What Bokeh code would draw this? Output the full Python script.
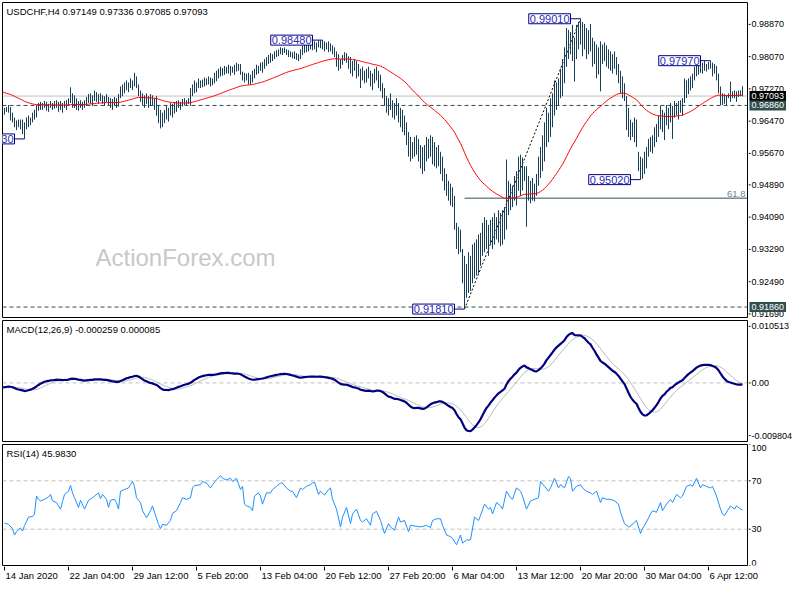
import numpy as np
from bokeh.plotting import figure
from bokeh.layouts import column, row
from bokeh.models import Range1d, Label, Span, ColumnDataSource
from bokeh.core.properties import value
from bokeh.embed import file_html
from bokeh.resources import INLINE

# ---------------- data ----------------
symbol_title = "USDCHF,H4  0.97149 0.97336 0.97085 0.97093"
macd_title = "MACD(12,26,9) -0.000259 0.000085"
rsi_title = "RSI(14) 45.9830"

highs = [
    0.9685, 0.9680, 0.9682, 0.9687, 0.9682, 0.9668, 0.9656, 0.9649, 0.9651, 0.9651,
    0.9651, 0.9644, 0.9656, 0.9661, 0.9656, 0.9668, 0.9675, 0.9687, 0.9692, 0.9695,
    0.9692, 0.9697, 0.9695, 0.9690, 0.9697, 0.9692, 0.9697, 0.9699, 0.9695, 0.9697,
    0.9692, 0.9697, 0.9699, 0.9704, 0.9731, 0.9716, 0.9711, 0.9704, 0.9697, 0.9699,
    0.9695, 0.9699, 0.9707, 0.9714, 0.9716, 0.9711, 0.9723, 0.9719, 0.9714, 0.9716,
    0.9711, 0.9709, 0.9714, 0.9707, 0.9704, 0.9702, 0.9707, 0.9704, 0.9714, 0.9733,
    0.9738, 0.9743, 0.9748, 0.9743, 0.9753, 0.9748, 0.9767, 0.9758, 0.9738, 0.9723,
    0.9716, 0.9711, 0.9716, 0.9709, 0.9714, 0.9711, 0.9704, 0.9709, 0.9685, 0.9675,
    0.9668, 0.9675, 0.9685, 0.9680, 0.9692, 0.9690, 0.9695, 0.9697, 0.9699, 0.9695,
    0.9702, 0.9704, 0.9699, 0.9704, 0.9729, 0.9738, 0.9748, 0.9743, 0.9753, 0.9748,
    0.9750, 0.9755, 0.9753, 0.9758, 0.9755, 0.9753, 0.9767, 0.9772, 0.9777, 0.9782,
    0.9779, 0.9784, 0.9782, 0.9787, 0.9784, 0.9782, 0.9787, 0.9792, 0.9789, 0.9789,
    0.9770, 0.9767, 0.9765, 0.9767, 0.9762, 0.9772, 0.9777, 0.9787, 0.9784, 0.9792,
    0.9794, 0.9801, 0.9806, 0.9811, 0.9816, 0.9813, 0.9820, 0.9823, 0.9825, 0.9830,
    0.9828, 0.9830, 0.9825, 0.9823, 0.9820, 0.9818, 0.9820, 0.9816, 0.9813, 0.9825,
    0.9835, 0.9840, 0.9837, 0.9842, 0.9840, 0.9842, 0.9845, 0.9842, 0.9847, 0.9847,
    0.9848, 0.9845, 0.9842, 0.9845, 0.9840, 0.9835, 0.9830, 0.9820, 0.9813, 0.9801,
    0.9811, 0.9818, 0.9816, 0.9808, 0.9806, 0.9796, 0.9801, 0.9796, 0.9789, 0.9777,
    0.9782, 0.9772, 0.9777, 0.9782, 0.9772, 0.9765, 0.9777, 0.9782, 0.9772, 0.9762,
    0.9741, 0.9729, 0.9709, 0.9704, 0.9716, 0.9699, 0.9692, 0.9704, 0.9692, 0.9680,
    0.9675, 0.9661, 0.9644, 0.9620, 0.9608, 0.9595, 0.9608, 0.9612, 0.9603, 0.9588,
    0.9583, 0.9588, 0.9608, 0.9603, 0.9612, 0.9608, 0.9595, 0.9583, 0.9588, 0.9571,
    0.9559, 0.9530, 0.9516, 0.9499, 0.9492, 0.9483, 0.9462, 0.9395, 0.9385, 0.9378,
    0.9330, 0.9313, 0.9293, 0.9322, 0.9313, 0.9341, 0.9346, 0.9354, 0.9366, 0.9370,
    0.9395, 0.9409, 0.9402, 0.9390, 0.9402, 0.9409, 0.9419, 0.9409, 0.9426, 0.9419,
    0.9426, 0.9434, 0.9552, 0.9499, 0.9492, 0.9487, 0.9511, 0.9523, 0.9559, 0.9564,
    0.9557, 0.9535, 0.9535, 0.9511, 0.9499, 0.9506, 0.9492, 0.9516, 0.9559, 0.9583,
    0.9612, 0.9644, 0.9680, 0.9668, 0.9704, 0.9716, 0.9748, 0.9743, 0.9753, 0.9777,
    0.9801, 0.9830, 0.9878, 0.9873, 0.9868, 0.9886, 0.9854, 0.9886, 0.9893, 0.9901,
    0.9893, 0.9888, 0.9878, 0.9873, 0.9888, 0.9854, 0.9845, 0.9837, 0.9830, 0.9845,
    0.9837, 0.9842, 0.9835, 0.9825, 0.9820, 0.9813, 0.9820, 0.9806, 0.9789, 0.9772,
    0.9758, 0.9741, 0.9709, 0.9680, 0.9651, 0.9644, 0.9656, 0.9651, 0.9571, 0.9559,
    0.9555, 0.9571, 0.9583, 0.9603, 0.9608, 0.9612, 0.9632, 0.9640, 0.9661, 0.9685,
    0.9675, 0.9668, 0.9687, 0.9680, 0.9692, 0.9685, 0.9697, 0.9692, 0.9697, 0.9699,
    0.9704, 0.9753, 0.9748, 0.9753, 0.9758, 0.9765, 0.9782, 0.9794, 0.9787, 0.9796,
    0.9792, 0.9796, 0.9789, 0.9794, 0.9797, 0.9792, 0.9789, 0.9784, 0.9765, 0.9733,
    0.9716, 0.9714, 0.9711, 0.9716, 0.9745, 0.9721, 0.9723, 0.9721, 0.9723, 0.9723,
    0.97336,
]
lows = [
    0.9668, 0.9663, 0.9670, 0.9668, 0.9649, 0.9644, 0.9632, 0.9625, 0.9632, 0.9627,
    0.9615, 0.9603, 0.9627, 0.9632, 0.9637, 0.9644, 0.9651, 0.9656, 0.9673, 0.9675,
    0.9675, 0.9680, 0.9673, 0.9670, 0.9680, 0.9675, 0.9678, 0.9680, 0.9670, 0.9675,
    0.9668, 0.9680, 0.9675, 0.9685, 0.9692, 0.9680, 0.9680, 0.9675, 0.9673, 0.9680,
    0.9675, 0.9680, 0.9685, 0.9692, 0.9690, 0.9685, 0.9697, 0.9695, 0.9690, 0.9697,
    0.9690, 0.9685, 0.9695, 0.9687, 0.9680, 0.9675, 0.9685, 0.9680, 0.9683, 0.9704,
    0.9709, 0.9716, 0.9724, 0.9719, 0.9729, 0.9724, 0.9733, 0.9729, 0.9709, 0.9695,
    0.9687, 0.9680, 0.9690, 0.9680, 0.9685, 0.9687, 0.9675, 0.9661, 0.9642, 0.9629,
    0.9632, 0.9642, 0.9651, 0.9646, 0.9661, 0.9656, 0.9666, 0.9670, 0.9680, 0.9675,
    0.9683, 0.9687, 0.9685, 0.9690, 0.9685, 0.9709, 0.9716, 0.9719, 0.9729, 0.9729,
    0.9731, 0.9733, 0.9736, 0.9738, 0.9733, 0.9736, 0.9741, 0.9746, 0.9753, 0.9758,
    0.9760, 0.9762, 0.9765, 0.9765, 0.9760, 0.9767, 0.9762, 0.9770, 0.9772, 0.9762,
    0.9748, 0.9743, 0.9748, 0.9738, 0.9738, 0.9743, 0.9753, 0.9762, 0.9765, 0.9772,
    0.9767, 0.9777, 0.9784, 0.9789, 0.9792, 0.9796, 0.9801, 0.9806, 0.9808, 0.9813,
    0.9811, 0.9816, 0.9811, 0.9806, 0.9806, 0.9803, 0.9801, 0.9799, 0.9796, 0.9801,
    0.9811, 0.9816, 0.9818, 0.9820, 0.9825, 0.9823, 0.9825, 0.9818, 0.9830, 0.9828,
    0.9825, 0.9820, 0.9825, 0.9818, 0.9820, 0.9813, 0.9806, 0.9782, 0.9772, 0.9777,
    0.9787, 0.9796, 0.9792, 0.9777, 0.9765, 0.9758, 0.9772, 0.9753, 0.9758, 0.9729,
    0.9748, 0.9741, 0.9743, 0.9753, 0.9733, 0.9724, 0.9741, 0.9748, 0.9729, 0.9721,
    0.9704, 0.9685, 0.9668, 0.9661, 0.9675, 0.9656, 0.9651, 0.9661, 0.9644, 0.9632,
    0.9620, 0.9612, 0.9588, 0.9559, 0.9547, 0.9554, 0.9559, 0.9564, 0.9547, 0.9530,
    0.9516, 0.9523, 0.9547, 0.9554, 0.9559, 0.9540, 0.9535, 0.9530, 0.9535, 0.9516,
    0.9499, 0.9475, 0.9462, 0.9450, 0.9438, 0.9434, 0.9378, 0.9330, 0.9317, 0.9322,
    0.9245, 0.9181, 0.9209, 0.9221, 0.9226, 0.9245, 0.9257, 0.9264, 0.9269, 0.9288,
    0.9313, 0.9322, 0.9330, 0.9313, 0.9341, 0.9330, 0.9341, 0.9354, 0.9346, 0.9337,
    0.9341, 0.9354, 0.9378, 0.9414, 0.9426, 0.9434, 0.9450, 0.9438, 0.9475, 0.9462,
    0.9475, 0.9499, 0.9385, 0.9450, 0.9443, 0.9450, 0.9448, 0.9462, 0.9487, 0.9506,
    0.9523, 0.9547, 0.9583, 0.9595, 0.9608, 0.9632, 0.9661, 0.9675, 0.9685, 0.9704,
    0.9709, 0.9741, 0.9782, 0.9801, 0.9813, 0.9796, 0.9745, 0.9801, 0.9825, 0.9837,
    0.9808, 0.9825, 0.9801, 0.9813, 0.9820, 0.9782, 0.9789, 0.9753, 0.9763, 0.9721,
    0.9789, 0.9796, 0.9782, 0.9777, 0.9772, 0.9765, 0.9777, 0.9762, 0.9741, 0.9716,
    0.9704, 0.9697, 0.9625, 0.9608, 0.9600, 0.9608, 0.9595, 0.9583, 0.9523, 0.9502,
    0.9504, 0.9516, 0.9530, 0.9559, 0.9571, 0.9567, 0.9583, 0.9595, 0.9608, 0.9627,
    0.9620, 0.9600, 0.9637, 0.9627, 0.9644, 0.9603, 0.9656, 0.9661, 0.9651, 0.9668,
    0.9661, 0.9692, 0.9704, 0.9714, 0.9723, 0.9729, 0.9748, 0.9758, 0.9762, 0.9767,
    0.9765, 0.9772, 0.9770, 0.9775, 0.9777, 0.9758, 0.9765, 0.9748, 0.9716, 0.9687,
    0.9687, 0.9690, 0.9687, 0.9704, 0.9695, 0.9704, 0.9704, 0.9695, 0.9707, 0.9709,
    0.97085,
]

# RSI(14) (bar index, value)
rsi_bars = [
    1, 3, 5, 6, 7, 9, 10, 11, 13, 15,
    16, 17, 18, 19, 21, 23, 24, 25, 27, 29,
    30, 31, 33, 34, 35, 36, 38, 39, 41, 43,
    44, 46, 48, 49, 50, 52, 53, 54, 56, 57,
    58, 59, 61, 63, 64, 65, 66, 67, 69, 70,
    72, 74, 75, 76, 78, 79, 80, 82, 84, 85,
    87, 89, 90, 92, 94, 95, 96, 99, 100, 102,
    104, 105, 107, 109, 110, 112, 114, 115, 117, 119,
    120, 121, 122, 124, 125, 126, 128, 129, 130, 132,
    134, 135, 137, 139, 140, 142, 144, 145, 147, 149,
    150, 152, 154, 155, 156, 158, 159, 161, 163, 164,
    165, 167, 169, 170, 172, 174, 175, 177, 179, 180,
    182, 184, 185, 187, 189, 190, 191, 193, 194, 196,
    198, 199,
    201, 203, 204, 207, 209, 212, 214, 215, 217, 219,
    220, 222, 224, 225, 227, 229, 230, 232, 234, 236,
    238, 239, 241, 243, 244, 245, 247, 249, 250, 252,
    254, 255, 257, 259, 260, 262, 264, 266, 268, 269,
    271, 273, 274, 276, 278, 279, 281, 283, 284, 285,
    287, 289, 290, 292, 294, 295, 297, 299, 300, 302,
    304, 306, 308, 309, 311, 313, 314, 316, 317, 319,
    320, 322, 324, 325, 327, 329, 330, 332, 334, 335,
    337, 339, 340, 342, 344, 345, 347, 349, 350, 352,
    354, 355, 357, 359, 360, 361, 363, 364, 366, 367,
    369, 370,
]
rsi_values = [
    35.1, 34.0, 30.5, 25.2, 28.0, 31.0, 28.4, 33.0, 40.0, 40.5,
    42.6, 57.4, 54.7, 53.4, 54.7, 56.6, 58.7, 53.4, 52.0, 46.6,
    52.8, 58.7, 61.4, 66.2, 60.0, 56.0, 48.0, 53.9, 46.6, 53.9,
    54.7, 57.4, 60.0, 55.2, 58.7, 54.7, 48.0, 53.9, 54.7, 52.0,
    46.6, 61.4, 62.8, 64.1, 66.8, 69.5, 65.4, 56.0, 52.0, 45.3,
    39.4, 45.3, 49.3, 44.0, 34.0, 30.5, 34.0, 33.2, 37.2, 43.2,
    45.3, 52.0, 56.0, 54.7, 56.0, 64.1, 66.0, 66.8, 69.5, 68.1,
    64.1, 66.8, 70.8, 74.3, 72.1, 70.8, 72.1, 69.5, 72.1, 62.8,
    65.4, 50.7, 49.3, 48.0, 45.3, 57.4, 60.0, 57.4, 50.7, 60.0,
    60.0, 62.8, 65.4, 68.1, 68.1, 64.1, 61.4, 61.4, 56.0, 64.1,
    62.8, 65.4, 66.8, 68.1, 68.9, 58.7, 61.4, 58.2, 62.8, 64.1,
    54.7, 46.6, 31.9, 40.0, 48.0, 34.6, 42.6, 46.6, 37.2, 35.9,
    38.6, 33.2, 42.6, 44.8, 37.2, 31.9, 26.5, 34.6, 31.9, 29.2,
    40.0, 35.9,
    37.2, 27.9, 33.2, 32.4, 31.9, 33.2, 31.3, 37.2, 38.6, 38.6,
    33.2, 25.2, 23.8, 22.5, 17.1, 25.2, 18.5, 21.1, 21.1, 40.0,
    37.2, 41.3, 50.7, 46.6, 48.0, 42.6, 52.0, 49.3, 46.6, 61.4,
    56.0, 54.7, 64.1, 61.4, 57.4, 46.6, 53.4, 54.7, 56.0, 69.5,
    65.4, 61.4, 64.1, 72.1, 64.1, 66.8, 64.1, 73.5, 72.1, 61.4,
    65.4, 66.8, 64.1, 61.4, 60.0, 58.7, 61.4, 52.0, 56.0, 54.7,
    54.7, 53.4, 50.7, 44.0, 34.6, 31.9, 32.4, 35.9, 37.2, 26.5,
    30.5, 35.9, 42.6, 45.3, 44.0, 52.0, 45.3, 50.7, 54.7, 52.0,
    58.7, 56.0, 57.4, 65.4, 66.8, 65.4, 72.1, 64.1, 66.8, 65.4,
    64.1, 65.4, 57.4, 46.6, 42.6, 41.3, 46.6, 49.3, 46.6, 49.3,
    46.6, 45.98,
]

time_tick_bars = [1, 33, 65, 97, 129, 161, 193, 225, 257, 289, 321, 353]
time_tick_labels = ["14 Jan 2020", "22 Jan 04:00", "29 Jan 12:00", "5 Feb 20:00",
                    "13 Feb 04:00", "20 Feb 12:00", "27 Feb 20:00", "6 Mar 04:00",
                    "13 Mar 12:00", "20 Mar 20:00", "30 Mar 04:00", "6 Apr 12:00"]
price_ticks = [0.98870, 0.98070, 0.97270, 0.96470, 0.95670, 0.94890, 0.94090,
               0.93290, 0.92490, 0.91690]
last_price = 0.97093
level_lines = [0.96860, 0.91860]
price_range = (0.91601, 0.99413)

marked_bars = [11, 160, 231, 289, 319, 354]
marked_side = ["low", "high", "low", "high", "low", "high"]
fib_from, fib_to = 231, 289
fib_ratio = 0.618

macd_ticks = [0.010513, 0.0, -0.009804]
macd_tick_labels = ["0.010513", "0.00", "-0.009804"]
macd_range = (-0.010892, 0.011601)
rsi_levels = [70, 30]
rsi_tick_values = [100, 70, 30, 0]

ma_period, ma_seed = 55, 0.9721
macd_seed = -0.0009

# ---------------- indicators from the bars ----------------
H = np.array(highs)
L = np.array(lows)
N = len(H)
idx = np.arange(N)
mid = (H + L) / 2.0


def ema(series, n, seed):
    a = 2.0 / (n + 1)
    out, prev = [], seed
    for v in series:
        prev = prev + a * (v - prev)
        out.append(prev)
    return np.array(out)


ma = ema(mid, ma_period, ma_seed)
macd = ema(mid, 12, mid[0]) - ema(mid, 26, mid[0] - macd_seed)
signal = np.array([macd[max(0, i - 8):i + 1].mean() for i in range(N)])

# ---------------- layout ----------------
FW = 745          # bar area: 2 px per bar
SW = 44           # right scale strip
FONT = "Liberation Sans"
FS = "9.5px"
SFS = "9px"
BAR = "#173f57"
X0 = 0.0
xr = Range1d(X0, X0 + FW / 2.0)


def make_fig(fh, top, bottom, yr):
    p = figure(frame_width=FW, frame_height=fh, x_range=xr, y_range=yr,
               output_backend="svg", toolbar_location=None,
               x_axis_location=None, y_axis_location=None,
               min_border_left=2, min_border_right=1, min_border_top=top,
               min_border_bottom=bottom, background_fill_color="white",
               border_fill_color="white", outline_line_color="black",
               outline_line_width=1)
    p.grid.visible = False
    return p


def side_fig(fh, top, bottom, yr):
    s = figure(frame_width=SW, frame_height=fh, x_range=Range1d(0, SW), y_range=yr,
               output_backend="svg", toolbar_location=None,
               x_axis_location=None, y_axis_location=None,
               min_border_left=0, min_border_right=0, min_border_top=top,
               min_border_bottom=bottom, background_fill_color="white",
               border_fill_color="white", outline_line_color=None)
    s.grid.visible = False
    return s


def scale_labels(s, ys, texts, baselines=None):
    n = len(ys)
    s.segment(x0=[0] * n, x1=[2] * n, y0=ys, y1=ys, line_color="black", line_width=1)
    s.text(x=[3] * n, y=ys, text=texts, text_font=value(FONT), text_font_size=value(SFS),
           text_color="black", text_align="left",
           text_baseline=baselines if baselines else "middle")


def title_label(p, fh, text):
    p.add_layout(Label(x=4, y=fh - 3, x_units="screen", y_units="screen", text=text,
                       text_baseline="top", text_font=FONT, text_font_size=FS,
                       text_color="black"))


# ---- main price panel ----
FH1 = 315
yr1 = Range1d(*price_range)
p1 = make_fig(FH1, 2, 1, yr1)
s1 = side_fig(FH1, 2, 1, yr1)

p1.add_layout(Label(x=93, y=47, x_units="screen", y_units="screen", text="ActionForex.com",
                    text_font=FONT, text_font_size="24px", text_color="#c8c8c8"))
p1.add_layout(Span(location=last_price, dimension="width", line_color="#c0c0c0",
                   line_width=1, level="underlay"))
for lv in level_lines:
    p1.add_layout(Span(location=lv, dimension="width", line_color="#2f4f4f",
                       line_width=1, line_dash="4 3", level="underlay"))

lo_v, hi_v = L[fib_from], H[fib_to]
fib_level = hi_v - fib_ratio * (hi_v - lo_v)
p1.segment(x0=[fib_from], x1=[xr.end], y0=[fib_level], y1=[fib_level],
           line_color="#2f4f4f", line_width=1)
p1.add_layout(Label(x=FW - 2, y=fib_level, x_units="screen", text="61.8",
                    text_align="right", text_baseline="bottom", y_offset=1,
                    text_font=FONT, text_font_size=FS, text_color="#6f8596"))
p1.segment(x0=[fib_from], x1=[fib_to], y0=[lo_v], y1=[hi_v], line_color="black",
           line_width=1, line_dash="2 2")

src = ColumnDataSource(dict(x=idx, h=H, l=L))
p1.segment(x0="x", x1="x", y0="l", y1="h", source=src, line_color=BAR, line_width=1)
p1.line(idx, ma, line_color="#ff0000", line_width=1)

for b, side in zip(marked_bars, marked_side):
    v = H[b] if side == "high" else L[b]
    p1.segment(x0=[b - 5], x1=[b], y0=[v], y1=[v], line_color="#000080", line_width=1)
    p1.add_layout(Label(x=b - 5, y=v, text=f"{v:.5f}", text_align="right",
                        text_baseline="middle", text_font=FONT, text_font_size="11px",
                        text_color="#2b2bb5", background_fill_color="white",
                        border_line_color="#000080", border_line_width=1, padding=1))
title_label(p1, FH1, symbol_title)

scale_labels(s1, price_ticks, [f"{t:.5f}" for t in price_ticks])
s1.add_layout(Label(x=1, y=last_price, text=f"{last_price:.5f}", text_align="left",
                    text_baseline="middle", text_font=FONT, text_font_size=SFS,
                    text_color="white", background_fill_color="black", padding=2))
for lv in level_lines:
    s1.add_layout(Label(x=1, y=lv, text=f"{lv:.5f}", text_align="left",
                        text_baseline="middle", text_font=FONT, text_font_size=SFS,
                        text_color="white", background_fill_color="#2f4f4f", padding=2))

# ---- MACD panel ----
FH2 = 121
yr2 = Range1d(*macd_range)
p2 = make_fig(FH2, 2, 1, yr2)
s2 = side_fig(FH2, 2, 1, yr2)
p2.add_layout(Span(location=0, dimension="width", line_color="#c0c0c0", line_width=1,
                   line_dash="4 3", level="underlay"))
p2.line(idx, signal, line_color="#b8b8b8", line_width=1)
p2.line(idx, macd, line_color="#000080", line_width=2.2)
title_label(p2, FH2, macd_title)
scale_labels(s2, macd_ticks, macd_tick_labels)

# ---- RSI panel ----
FH3 = 121
yr3 = Range1d(0, 100)
p3 = make_fig(FH3, 2, 1, yr3)
s3 = side_fig(FH3, 2, 1, yr3)
for lv in rsi_levels:
    p3.add_layout(Span(location=lv, dimension="width", line_color="#c0c0c0",
                       line_width=1, line_dash="4 3", level="underlay"))
p3.line(rsi_bars, rsi_values, line_color="#1e90ff", line_width=1)
title_label(p3, FH3, rsi_title)
scale_labels(s3, rsi_tick_values, [str(v) for v in rsi_tick_values],
             ["top", "middle", "middle", "bottom"])

# ---- time scale strip (full width so the last label fits) ----
TH = 18
TW = FW + 1 + SW
t = figure(frame_width=TW, frame_height=TH, x_range=Range1d(X0, X0 + TW / 2.0),
           y_range=Range1d(0, TH), output_backend="svg", toolbar_location=None,
           x_axis_location=None, y_axis_location=None,
           min_border_left=2, min_border_right=0, min_border_top=0, min_border_bottom=0,
           background_fill_color="white", border_fill_color="white",
           outline_line_color=None)
t.grid.visible = False
nt = len(time_tick_bars)
t.segment(x0=time_tick_bars, x1=time_tick_bars, y0=[TH] * nt, y1=[TH - 4] * nt,
          line_color="black", line_width=1)
t.text(x=time_tick_bars, y=[TH - 3] * nt, text=time_tick_labels, text_font=value(FONT),
       text_font_size=value(FS), text_color="black", text_align="left",
       text_baseline="top", x_offset=1)

layout = column(row(p1, s1, spacing=0), row(p2, s2, spacing=0),
                row(p3, s3, spacing=0), t, spacing=0)
open("out.html", "w").write(file_html(layout, INLINE))
